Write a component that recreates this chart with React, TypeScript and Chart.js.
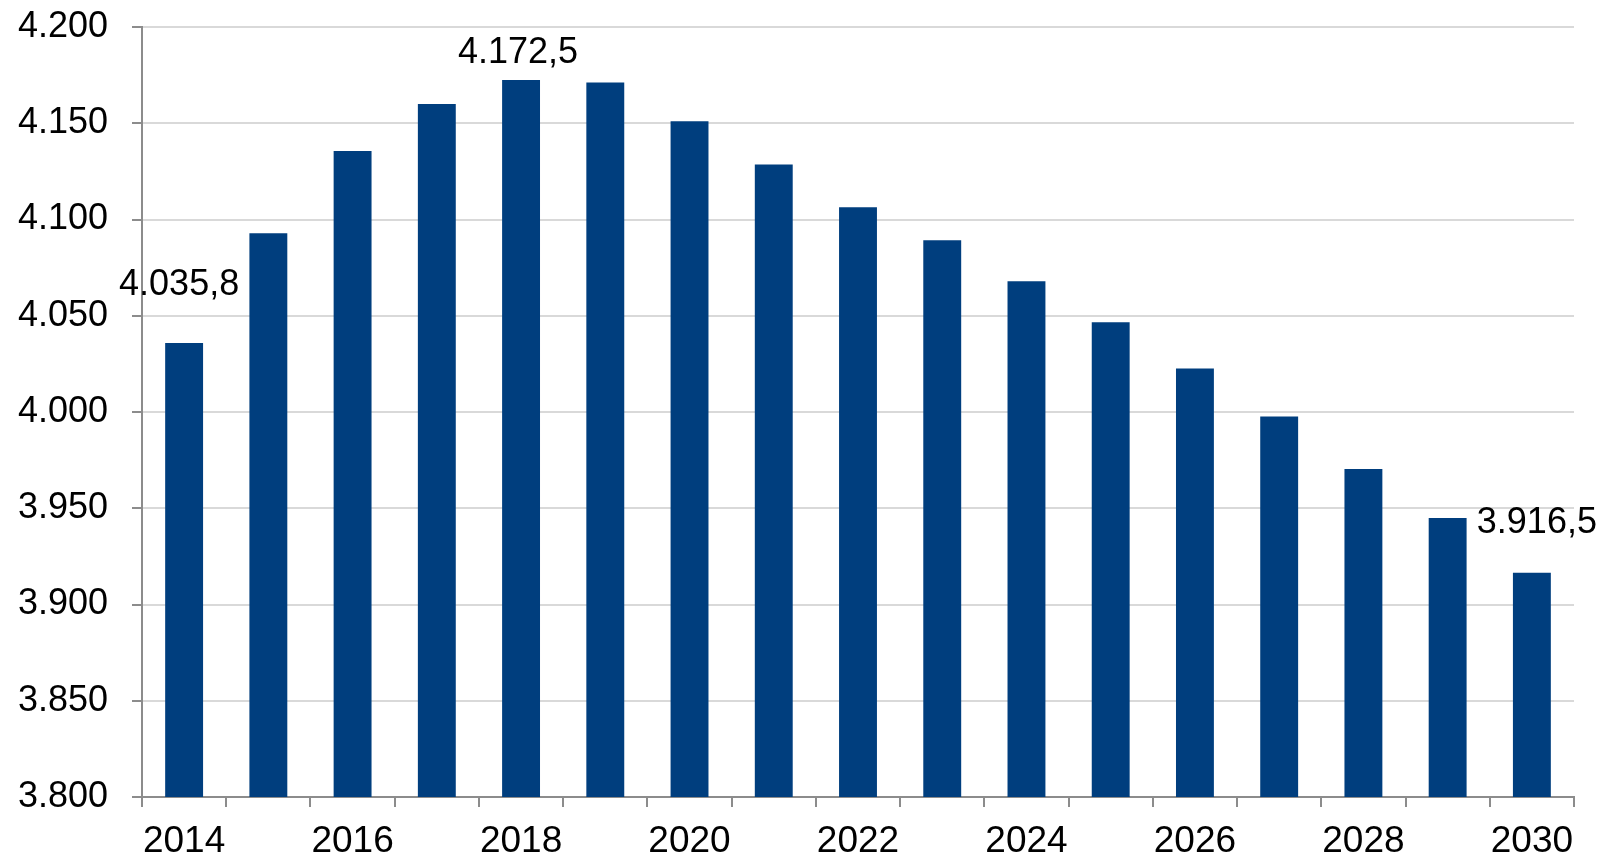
import React, { useEffect, useRef } from "react";
import { Chart, registerables } from "chart.js";

Chart.register(...registerables);

const years = ["2014", "2015", "2016", "2017", "2018", "2019", "2020", "2021", "2022", "2023", "2024", "2025", "2026", "2027", "2028", "2029", "2030"];
const values = [4035.8, 4092.9, 4135.6, 4160.0, 4172.5, 4171.2, 4151.0, 4128.6, 4106.3, 4089.2, 4067.9, 4046.6, 4022.6, 3997.6, 3970.4, 3944.9, 3916.5];
const yMin = 3800;
const yMax = 4200;
const yStep = 50;
const labeledYears = ["2014", "2018", "2030"];

// label placement relative to its bar (pixels)
const labelOffsets: Record<string, { dx: number; dy: number }> = {
  "2014": { dx: -5, dy: 48 },
  "2018": { dx: -3, dy: 17 },
  "2030": { dx: 5, dy: 40 },
};

const FONT = "'Liberation Sans', Arial, sans-serif";

function fmtThousands(v: number, decimals: number): string {
  const fixed = v.toFixed(decimals);
  const [intPart, dec] = fixed.split(".");
  const withDots = intPart.replace(/\B(?=(\d{3})+(?!\d))/g, ".");
  return dec ? withDots + "," + dec : withDots;
}

const dataLabelPlugin = {
  id: "dataLabels",
  afterDatasetsDraw(chart: any) {
    const ctx = chart.ctx;
    const meta = chart.getDatasetMeta(0);
    ctx.save();
    ctx.font = `36px ${FONT}`;
    ctx.fillStyle = "#000000";
    ctx.textAlign = "center";
    ctx.textBaseline = "alphabetic";
    labeledYears.forEach((yr) => {
      const i = years.indexOf(yr);
      const el = meta.data[i];
      if (!el) return;
      const off = labelOffsets[yr] || { dx: 0, dy: 10 };
      ctx.fillText(fmtThousands(values[i], 1), el.x + off.dx, el.y - off.dy);
    });
    ctx.restore();
  },
};

export default function App() {
  const canvasRef = useRef<HTMLCanvasElement | null>(null);

  useEffect(() => {
    document.body.style.margin = "0";
    const canvas = canvasRef.current;
    if (!canvas) return;
    const chart = new Chart(canvas, {
      type: "bar",
      data: {
        labels: years,
        datasets: [
          {
            data: values,
            backgroundColor: "#003e7e",
            borderWidth: 0,
            categoryPercentage: 1,
            barPercentage: 0.45,
          },
        ],
      },
      options: {
        animation: false,
        responsive: false,
        devicePixelRatio: 1,
        layout: { padding: { top: 27, right: 31, left: 0, bottom: 0 } },
        plugins: {
          legend: { display: false },
          tooltip: { enabled: false },
          title: { display: false },
        },
        scales: {
          x: {
            offset: true,
            grid: {
              offset: true,
              drawOnChartArea: false,
              drawTicks: true,
              tickLength: 10,
              color: "#8c8c8c",
              lineWidth: 2,
            },
            border: { display: true, color: "#8c8c8c", width: 2 },
            ticks: {
              autoSkip: false,
              maxRotation: 0,
              minRotation: 0,
              padding: 13,
              color: "#000000",
              font: { family: FONT, size: 37 },
              callback: (_v: any, i: number) => (i % 2 === 0 ? years[i] : ""),
            },
            afterFit: (s: any) => {
              s.height = 61;
              s.paddingLeft = 0;
              s.paddingRight = 0;
            },
          },
          y: {
            min: yMin,
            max: yMax,
            grid: {
              color: "#d9d9d9",
              lineWidth: 2,
              tickColor: "#8c8c8c",
              tickLength: 10,
              drawTicks: true,
            },
            border: { display: true, color: "#8c8c8c", width: 2 },
            ticks: {
              stepSize: yStep,
              padding: 24,
              color: "#000000",
              font: { family: FONT, size: 36 },
              callback: (v: any) => fmtThousands(Number(v), 0),
            },
            afterFit: (s: any) => {
              s.width = 142;
              s.paddingTop = 0;
              s.paddingBottom = 0;
            },
          },
        },
      },
      plugins: [dataLabelPlugin],
    });
    return () => chart.destroy();
  }, []);

  return (
    <div style={{ position: "absolute", left: 0, top: 0, width: 1605, height: 858, background: "#ffffff" }}>
      <canvas ref={canvasRef} width={1605} height={858} style={{ display: "block" }} />
    </div>
  );
}
